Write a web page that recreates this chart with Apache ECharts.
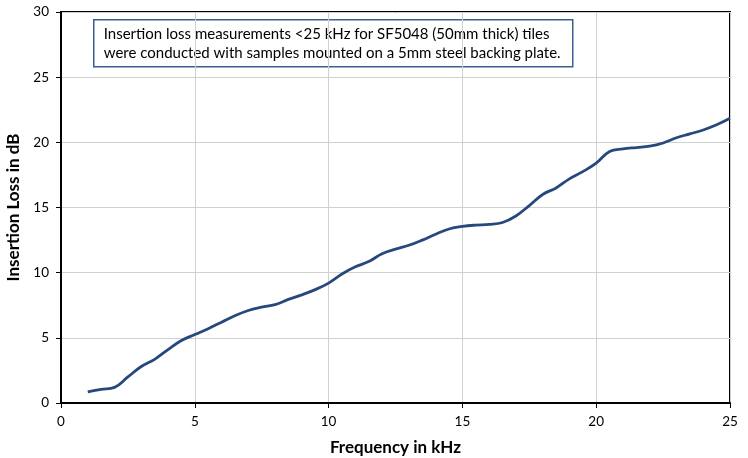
<!DOCTYPE html>
<html><head><meta charset="utf-8">
<script src="https://cdn.jsdelivr.net/npm/echarts@6/dist/echarts.min.js"></script>
<style>html,body{margin:0;padding:0;background:#fff}#c{width:748px;height:458px}</style>
</head><body><div id="c"></div>
<script>
const freqKHz = [1,1.5,2,2.5,3,3.5,4,4.5,5,5.5,6,6.5,7,7.5,8,8.5,9,9.5,10,10.5,11,11.5,12,12.5,13,13.5,14,14.5,15,15.5,16,16.5,17,17.5,18,18.5,19,19.5,20,20.5,21,21.5,22,22.5,23,23.5,24,24.5,25];
const lossDB = [0.85,1.05,1.2,2.0,2.8,3.35,4.1,4.8,5.25,5.7,6.2,6.7,7.1,7.35,7.55,7.95,8.3,8.7,9.2,9.9,10.45,10.85,11.45,11.8,12.1,12.5,12.95,13.35,13.55,13.65,13.7,13.85,14.35,15.15,16.0,16.5,17.2,17.75,18.4,19.3,19.5,19.6,19.7,19.95,20.35,20.65,20.95,21.35,21.85];
const noteLines = ["Insertion loss measurements <25 kHz for SF5048 (50mm thick) tiles","were conducted with samples mounted on a 5mm steel backing plate."];
const xTitle = "Frequency in kHz";
const yTitle = "Insertion Loss in dB";

const font = "Lato, 'Open Sans', sans-serif";
const chart = echarts.init(document.getElementById('c'), null, {renderer:'canvas'});
chart.setOption({
  animation:false,
  grid:{left:61,top:12,right:18,bottom:55,containLabel:false,outerBoundsMode:'none',show:true,borderColor:'#000',borderWidth:2,backgroundColor:'#fff'},
  xAxis:{type:'value',min:0,max:25,interval:5,
    name:xTitle,nameLocation:'middle',nameGap:36,
    nameTextStyle:{fontFamily:font,fontWeight:'bold',fontSize:17,color:'#000'},
    axisLine:{lineStyle:{color:'#000',width:2}},
    axisTick:{show:true,length:5,lineStyle:{color:'#000'}},
    axisLabel:{fontFamily:font,fontSize:13.5,color:'#000',margin:12},
    splitLine:{lineStyle:{color:'#d0d0d0',width:1}}},
  yAxis:{type:'value',min:0,max:30,interval:5,
    name:yTitle,nameLocation:'middle',nameGap:33,
    nameTextStyle:{fontFamily:font,fontWeight:'bold',fontSize:17,color:'#000'},
    axisLine:{show:true,lineStyle:{color:'#000',width:2}},
    axisTick:{show:true,length:5,lineStyle:{color:'#000'}},
    axisLabel:{fontFamily:font,fontSize:13.5,color:'#000',margin:12},
    splitLine:{lineStyle:{color:'#d0d0d0',width:1}}},
  series:[{type:'line',data:freqKHz.map((f,i)=>[f,lossDB[i]]),smooth:0.4,showSymbol:false,
    lineStyle:{color:'#26497d',width:2.8}}],
  graphic:[{type:'group',left:93,top:19,children:[
    {type:'rect',shape:{x:0,y:0,width:479,height:47},style:{fill:'#fff',stroke:'#3d5f8f',lineWidth:1.5}},
    {type:'text',x:10,y:5,style:{text:noteLines.join('\n'),font:"15px "+font,fill:'#000',lineHeight:19}}
  ]}]
});
</script></body></html>
